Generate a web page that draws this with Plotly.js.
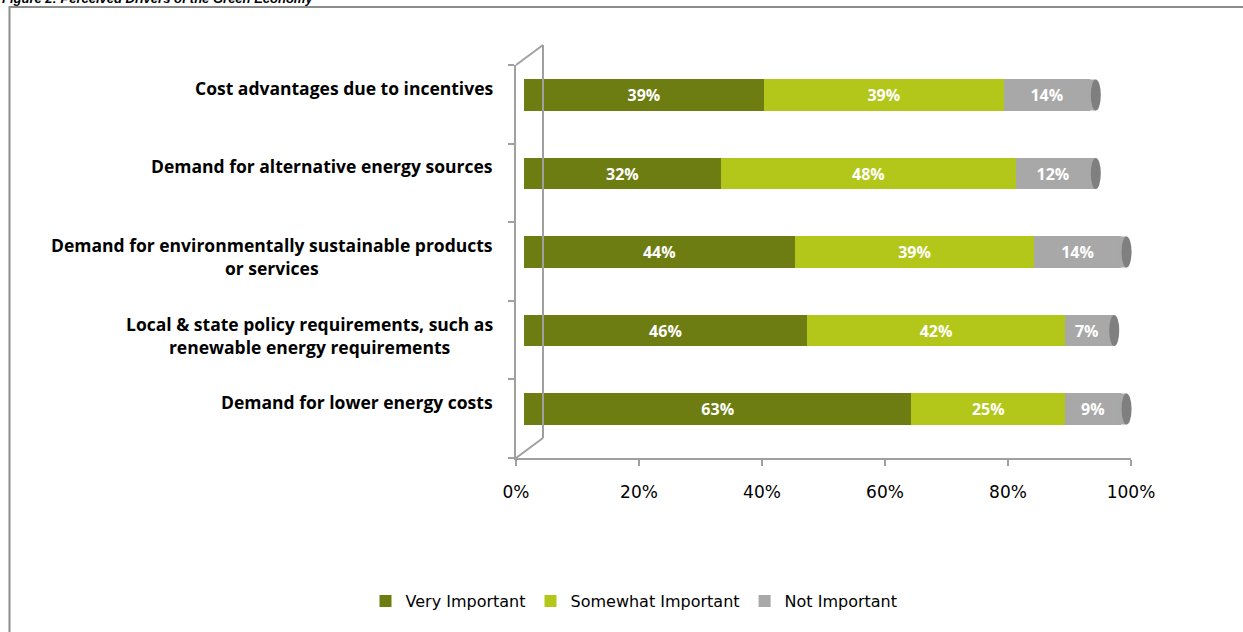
<!DOCTYPE html>
<html>
<head>
<meta charset="utf-8">
<script src="https://cdn.plot.ly/plotly-3.0.1.min.js"></script>
<style>html,body{margin:0;padding:0;background:#fff;}#chart{width:1243px;height:632px;}</style>
</head>
<body>
<div id="chart"></div>
<script>
// ---- data ----
const categories = [
  "Cost advantages due to incentives",
  "Demand for alternative energy sources",
  "Demand for environmentally sustainable products<br>or services",
  "Local & state policy requirements, such as<br>renewable energy requirements",
  "Demand for lower energy costs"
];
const veryImportant = [39, 32, 44, 46, 63];
const somewhatImportant = [39, 48, 39, 42, 25];
const notImportant = [14, 12, 14, 7, 9];
const seriesNames = ["Very Important", "Somewhat Important", "Not Important"];
const xTicks = [0, 20, 40, 60, 80, 100];
const figTitle = "Figure 2: Perceived Drivers of the Green Economy";

// ---- layout helpers (pixel -> paper) ----
const W = 1243, H = 632;
const px = v => v / W;
const py = v => 1 - v / H;
const boldFont = "'Open Sans', sans-serif";
const regFont = "'DejaVu Sans', sans-serif";
const gray = "#a0a0a0";
const colors = ["#6e7d12", "#b3c71a", "#a8a8a8"];

const idx = categories.map((c, i) => i);
function barTrace(vals, name, color) {
  return {
    type: "bar", orientation: "h", name: name,
    x: vals, y: idx, xaxis: "x2", yaxis: "y2",
    marker: {color: color, line: {width: 0}},
    text: vals.map(v => v + "%"),
    textposition: "inside", insidetextanchor: "middle",
    textfont: {family: boldFont, size: 16, color: "#ffffff", weight: 700},
    hoverinfo: "skip", cliponaxis: false
  };
}
const traces = [
  barTrace(veryImportant, seriesNames[0], colors[0]),
  barTrace(somewhatImportant, seriesNames[1], colors[1]),
  barTrace(notImportant, seriesNames[2], colors[2]),
  {type: "scatter", x: [0], y: [0], xaxis: "x", yaxis: "y", mode: "markers",
   marker: {opacity: 0}, showlegend: false, hoverinfo: "skip"}
];

const totals = idx.map(i => veryImportant[i] + somewhatImportant[i] + notImportant[i]);

const shapes = [
  // outer frame
  {type: "rect", xref: "paper", yref: "paper", x0: px(9.5), x1: px(1260), y0: py(700), y1: py(7),
   line: {color: "#8c8c8c", width: 2}, fillcolor: "rgba(0,0,0,0)", layer: "below"},
  // 3D back wall
  {type: "line", xref: "paper", yref: "paper", x0: px(543), x1: px(543), y0: py(438), y1: py(45), line: {color: gray, width: 2}},
  {type: "line", xref: "paper", yref: "paper", x0: px(516), x1: px(543), y0: py(65), y1: py(45), line: {color: gray, width: 2}},
  {type: "line", xref: "paper", yref: "paper", x0: px(516), x1: px(543), y0: py(458), y1: py(438), line: {color: gray, width: 2}}
];
// cylinder end caps
idx.forEach(i => {
  shapes.push({type: "rect", xref: "x2", yref: "y2", xsizemode: "pixel", ysizemode: "pixel",
    xanchor: totals[i], yanchor: i, x0: -1, x1: 6, y0: -15.5, y1: 15.5,
    fillcolor: colors[2], line: {width: 0}});
  shapes.push({type: "circle", xref: "x2", yref: "y2", xsizemode: "pixel", ysizemode: "pixel",
    xanchor: totals[i], yanchor: i, x0: 1, x1: 11, y0: -15.5, y1: 15.5,
    fillcolor: "#7f7f7f", line: {width: 0}});
  shapes.push({type: "circle", xref: "x2", yref: "y2", xsizemode: "pixel", ysizemode: "pixel",
    xanchor: 0, yanchor: i, x0: -5, x1: 5, y0: -15.5, y1: 15.5,
    fillcolor: colors[0], line: {width: 0}, layer: "below"});
});

const annotations = categories.map((c, i) => ({
  xref: "paper", yref: "y2", x: px(495), y: i, xanchor: "right", yanchor: "top", yshift: 21,
  text: "<b>" + c + "</b>", showarrow: false, align: "center",
  font: {family: boldFont, size: 17.5, color: "#000000"}
}));
annotations.push({
  xref: "paper", yref: "paper", x: 0, y: 1, xanchor: "left", yanchor: "bottom", yshift: -8,
  text: "<b><i>" + figTitle + "</i></b>", showarrow: false,
  font: {family: "Liberation Sans, Arial, sans-serif", size: 13, color: "#000"}
});

const layout = {
  width: W, height: H,
  margin: {l: 0, r: 0, t: 0, b: 0},
  paper_bgcolor: "#ffffff", plot_bgcolor: "rgba(0,0,0,0)",
  barmode: "stack", bargap: 0.6,
  showlegend: true,
  legend: {orientation: "h", x: px(634), y: py(601), xanchor: "center", yanchor: "middle",
           font: {family: regFont, size: 16, color: "#000"}, itemwidth: 30, traceorder: "normal"},
  xaxis: {domain: [px(516), px(1131)], range: [0, 100], anchor: "y",
          tickvals: xTicks, ticktext: xTicks.map(v => v + "%"),
          ticks: "outside", ticklen: 6, tickwidth: 2, tickcolor: gray, ticklabelstandoff: 12,
          showline: true, linecolor: gray, linewidth: 2, showgrid: false, zeroline: false,
          tickfont: {family: regFont, size: 17, color: "#000"}, fixedrange: true},
  yaxis: {domain: [py(458), py(65)], range: [0, 5], anchor: "x",
          tickvals: [0, 1, 2, 3, 4, 5], showticklabels: false,
          ticks: "outside", ticklen: 6, tickwidth: 2, tickcolor: gray,
          showline: true, linecolor: gray, linewidth: 2, showgrid: false, zeroline: false, fixedrange: true},
  xaxis2: {domain: [px(524), px(1139)], range: [0, 100], anchor: "y2", visible: false, fixedrange: true},
  yaxis2: {domain: [py(448.25), py(55.75)], range: [4.5, -0.5], anchor: "x2", visible: false, fixedrange: true},
  shapes: shapes,
  annotations: annotations
};

Plotly.newPlot("chart", traces, layout, {displayModeBar: false, staticPlot: true});
</script>
</body>
</html>
